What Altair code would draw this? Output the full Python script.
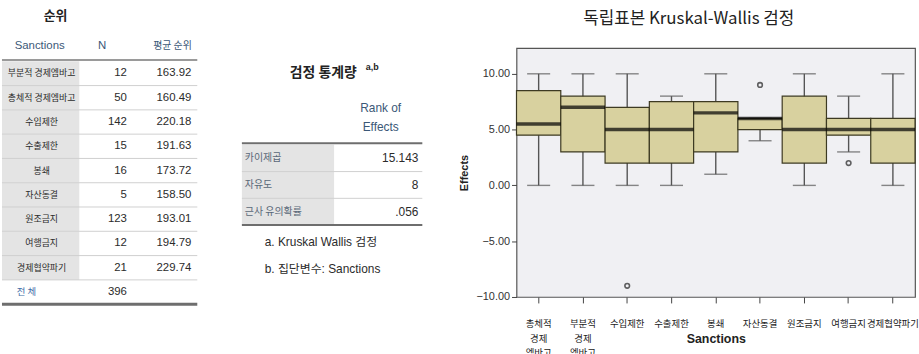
import altair as alt
import pandas as pd

# ---- 순위 (mean ranks by sanction type) ----
rank_groups = ["부분적 경제엠바고", "총체적 경제엠바고", "수입제한", "수출제한", "봉쇄",
               "자산동결", "원조금지", "여행금지", "경제협약파기"]
rank_n = [12, 50, 142, 15, 16, 5, 123, 12, 21]
rank_mean = [163.92, 160.49, 220.18, 191.63, 173.72, 158.50, 193.01, 194.79, 229.74]
rank_total_label = "전 체"
rank_total_n = 396

# ---- 검정 통계량 ----
stat_names = ["카이제곱", "자유도", "근사 유의확률"]
stat_values = ["15.143", "8", ".056"]
stat_notes = ["a. Kruskal Wallis 검정", "b. 집단변수: Sanctions"]

# ---- box plot summary (Effects by Sanctions) ----
box_groups = ["총체적 경제 엠바고", "부분적 경제 엠바고", "수입제한", "수출제한", "봉쇄",
              "자산동결", "원조금지", "여행금지", "경제협약파기"]
box_min = [0, 0, 0, 0, 1, 4, 0, 3, 0]
box_q1 = [4.5, 3, 2, 2, 3, 5, 2, 4.5, 2]
box_median = [5.5, 7, 5, 5, 6.5, 6, 5, 5, 5]
box_q3 = [8.5, 8, 7, 7.5, 7.5, 6, 8, 6, 6]
box_max = [10, 10, 10, 8, 10, 6, 10, 8, 10]
outlier_groups = ["수입제한", "자산동결", "여행금지"]
outlier_values = [-9, 9, 2]
y_ticks = [-10, -5, 0, 5, 10]

# ---- layout ----
PAD_TOP = 8
Y0 = 47          # page y of the plot-area top shared by all three panels
T_H = 305
W1, W2 = 215, 245
BOX_W, BOX_H = 402, 251

KR = "Noto Sans CJK KR"
LAT = "Liberation Sans, Noto Sans CJK KR"
HEAD_BLUE = "#3b5877"
BODY = "#2b2b2b"
CELL_GRAY = "#e4e4e4"
LINE_LIGHT = "#cfcfcf"
LINE_DARK = "#6e6e6e"


def xscale(w):
    return alt.Scale(domain=[0, w], nice=False, zero=False)


def yscale(first_row_px, step):
    # row units: row 0 is centred first_row_px below the page top
    off = first_row_px - Y0
    return alt.Scale(domain=[-off / step, (T_H - off) / step],
                     reverse=True, nice=False, zero=False)


def xd(v, s):
    return alt.XDatum(v, type="quantitative", scale=s, axis=None)


def x2d(v):
    return alt.X2Datum(v)


def yd(v, s):
    return alt.YDatum(v, type="quantitative", scale=s, axis=None)


def label(text, x, row, xs, ys, **mark):
    return alt.Chart(pd.DataFrame({"t": [text]})).mark_text(**mark).encode(
        x=xd(x, xs), y=yd(row, ys), text="t:N")


# ================= table 1 =================
xs1 = xscale(W1)
ys1 = yscale(72.5, 24.5)
t1 = pd.DataFrame({"name": rank_groups, "n": rank_n, "mean": rank_mean,
                   "row": list(range(len(rank_groups)))})
n_rows1 = len(rank_groups)
edges1 = pd.DataFrame({"edge": [r + 0.5 for r in range(n_rows1)]})

t1_cells = alt.Chart(t1).mark_rect(fill=CELL_GRAY).transform_calculate(
    r0="datum.row - 0.5", r1="datum.row + 0.5").encode(
    x=xd(0, xs1), x2=x2d(78),
    y=alt.Y("r0:Q", scale=ys1, axis=None), y2="r1:Q")
t1_lines = alt.Chart(edges1).mark_rule(color=LINE_LIGHT, strokeWidth=1).encode(
    x=xd(0, xs1), x2=x2d(197), y=alt.Y("edge:Q", scale=ys1, axis=None))
t1_head_line = alt.Chart(pd.DataFrame({"e": [-0.55]})).mark_rule(
    color="#9a9a9a", strokeWidth=2).encode(
    x=xd(0, xs1), x2=x2d(197), y=alt.Y("e:Q", scale=ys1, axis=None))
t1_bottom = alt.Chart(pd.DataFrame({"e": [n_rows1 + 0.5]})).mark_rule(
    color=LINE_DARK, strokeWidth=3).encode(
    x=xd(0, xs1), x2=x2d(197), y=alt.Y("e:Q", scale=ys1, axis=None))
t1_names = alt.Chart(t1).mark_text(font=KR, fontSize=9, color=BODY).encode(
    x=xd(40, xs1), y=alt.Y("row:Q", scale=ys1, axis=None), text="name:N")
t1_n = alt.Chart(t1).mark_text(font=LAT, fontSize=11.5, color=BODY, align="right").encode(
    x=xd(126, xs1), y=alt.Y("row:Q", scale=ys1, axis=None), text="n:Q")
t1_mean = alt.Chart(t1).mark_text(font=LAT, fontSize=11.5, color=BODY, align="right").encode(
    x=xd(191, xs1), y=alt.Y("row:Q", scale=ys1, axis=None),
    text=alt.Text("mean:Q", format=".2f"))

table1 = alt.layer(
    t1_cells, t1_lines, t1_head_line, t1_bottom, t1_names, t1_n, t1_mean,
    label("순위", 54, -2.35, xs1, ys1, font=KR, fontSize=13, fontWeight="bold", color="#222"),
    label("Sanctions", 38, -1.12, xs1, ys1, font=LAT, fontSize=11.5, color=HEAD_BLUE),
    label("N", 101, -1.12, xs1, ys1, font=LAT, fontSize=11.5, color=HEAD_BLUE),
    label("평균 순위", 172, -1.12, xs1, ys1, font=KR, fontSize=10, color=HEAD_BLUE),
    label(rank_total_label, 15, n_rows1, xs1, ys1, font=KR, fontSize=9.5,
          color="#3f6ea8", align="left"),
    label(str(rank_total_n), 126, n_rows1, xs1, ys1, font=LAT, fontSize=11.5,
          color=BODY, align="right"),
).properties(width=W1, height=T_H, view=alt.ViewBackground(strokeWidth=0))

# ================= table 2 =================
xs2 = xscale(W2)
ys2 = yscale(158, 27)
t2 = pd.DataFrame({"name": stat_names, "value": stat_values,
                   "row": list(range(len(stat_names)))})
n_rows2 = len(stat_names)
edges2 = pd.DataFrame({"edge": [r + 0.5 for r in range(n_rows2 - 1)]})
notes2 = pd.DataFrame({"t": stat_notes, "row": [n_rows2 + 0.15 + i for i in range(len(stat_notes))]})

t2_cells = alt.Chart(t2).mark_rect(fill=CELL_GRAY).transform_calculate(
    r0="datum.row - 0.5", r1="datum.row + 0.5").encode(
    x=xd(27, xs2), x2=x2d(120),
    y=alt.Y("r0:Q", scale=ys2, axis=None), y2="r1:Q")
t2_lines = alt.Chart(edges2).mark_rule(color=LINE_LIGHT, strokeWidth=1).encode(
    x=xd(27, xs2), x2=x2d(209), y=alt.Y("edge:Q", scale=ys2, axis=None))
t2_frame = alt.Chart(pd.DataFrame({"e": [-0.56, n_rows2 - 0.5]})).mark_rule(
    color=LINE_DARK, strokeWidth=2).encode(
    x=xd(27, xs2), x2=x2d(209), y=alt.Y("e:Q", scale=ys2, axis=None))
t2_names = alt.Chart(t2).mark_text(font=KR, fontSize=10, color="#5a6878", align="left").encode(
    x=xd(30, xs2), y=alt.Y("row:Q", scale=ys2, axis=None), text="name:N")
t2_vals = alt.Chart(t2).mark_text(font=LAT, fontSize=12, color=BODY, align="right").encode(
    x=xd(205, xs2), y=alt.Y("row:Q", scale=ys2, axis=None), text="value:N")
t2_notes = alt.Chart(notes2).mark_text(font=LAT, fontSize=12, color=BODY, align="left").encode(
    x=xd(50, xs2), y=alt.Y("row:Q", scale=ys2, axis=None), text="t:N")

table2 = alt.layer(
    t2_cells, t2_lines, t2_frame, t2_names, t2_vals, t2_notes,
    label("검정 통계량", 109, -3.19, xs2, ys2, font=KR, fontSize=14, fontWeight="bold", color="#222"),
    label("a,b", 152, -3.4, xs2, ys2, font=LAT, fontSize=9, fontWeight="bold",
          color="#222", align="left"),
    label("Rank of", 167, -1.89, xs2, ys2, font=LAT, fontSize=12, color=HEAD_BLUE),
    label("Effects", 167, -1.15, xs2, ys2, font=LAT, fontSize=12, color=HEAD_BLUE),
).properties(width=W2, height=T_H, view=alt.ViewBackground(strokeWidth=0))

# ================= box plot =================
box_df = pd.DataFrame({"group": box_groups, "lo": box_min, "q1": box_q1,
                       "med": box_median, "q3": box_q3, "hi": box_max})
out_df = pd.DataFrame({"group": outlier_groups, "v": outlier_values})

xs3 = alt.Scale(domain=box_groups, paddingInner=0, paddingOuter=0)
ys3 = alt.Scale(domain=[-10, 12.3], nice=False, zero=False)
x_axis = alt.Axis(title="Sanctions", labelExpr="split(datum.label, ' ')", labelAngle=0,
                  labelFont=KR, labelFontSize=9.5, labelColor="#222", labelLineHeight=14.5,
                  labelPadding=16, tickSize=6, tickColor="#444", domain=False,
                  titleFont=LAT, titleFontSize=12.5, titleFontWeight="bold", titleColor="#222",
                  titleY=42, titleBaseline="middle")
y_axis = alt.Axis(title="Effects", values=y_ticks, format=".2f", grid=False,
                  labelFont=LAT, labelFontSize=11, labelColor="#333", tickSize=5,
                  tickColor="#444", domain=False, titleFont=LAT, titleFontSize=11,
                  titleFontWeight="bold", titleColor="#222", titlePadding=6)
band = BOX_W / len(box_groups)

base = alt.Chart(box_df).encode(x=alt.X("group:N", scale=xs3, sort=box_groups, axis=x_axis))
whisker = base.mark_rule(color="#555", strokeWidth=1.4).encode(
    y=alt.Y("lo:Q", scale=ys3, axis=y_axis), y2="hi:Q")
cap_lo = base.mark_tick(color="#555", thickness=1.4, size=band * 0.52).encode(
    y=alt.Y("lo:Q", scale=ys3))
cap_hi = base.mark_tick(color="#555", thickness=1.4, size=band * 0.52).encode(
    y=alt.Y("hi:Q", scale=ys3))
box = base.mark_bar(fill="#d8d19f", stroke="#3d3a22", strokeWidth=1.2).encode(
    y=alt.Y("q1:Q", scale=ys3), y2="q3:Q")
median = base.mark_tick(color="#000", thickness=3.5, size=band).encode(
    y=alt.Y("med:Q", scale=ys3))
outliers = alt.Chart(out_df).mark_point(shape="circle", filled=False, size=22,
                                         color="#222", strokeWidth=1.6).encode(
    x=alt.X("group:N", scale=xs3, sort=box_groups),
    y=alt.Y("v:Q", scale=ys3))

boxplot = alt.layer(whisker, cap_lo, cap_hi, box, median, outliers).properties(
    width=BOX_W, height=BOX_H,
    title=alt.TitleParams("독립표본 Kruskal-Wallis 검정", font=KR, fontSize=17,
                          fontWeight="normal", color="#222", offset=20,
                          frame="bounds", anchor="middle"),
    view=alt.ViewBackground(fill="#f0f0f3", stroke="#555", strokeWidth=1.2))

chart = alt.hconcat(table1, table2, boxplot, spacing=0).properties(
    padding={"left": 0, "top": PAD_TOP, "right": 0, "bottom": 0},
    background="white")

chart.save("out.html", embed_options={"renderer": "svg", "actions": False})
